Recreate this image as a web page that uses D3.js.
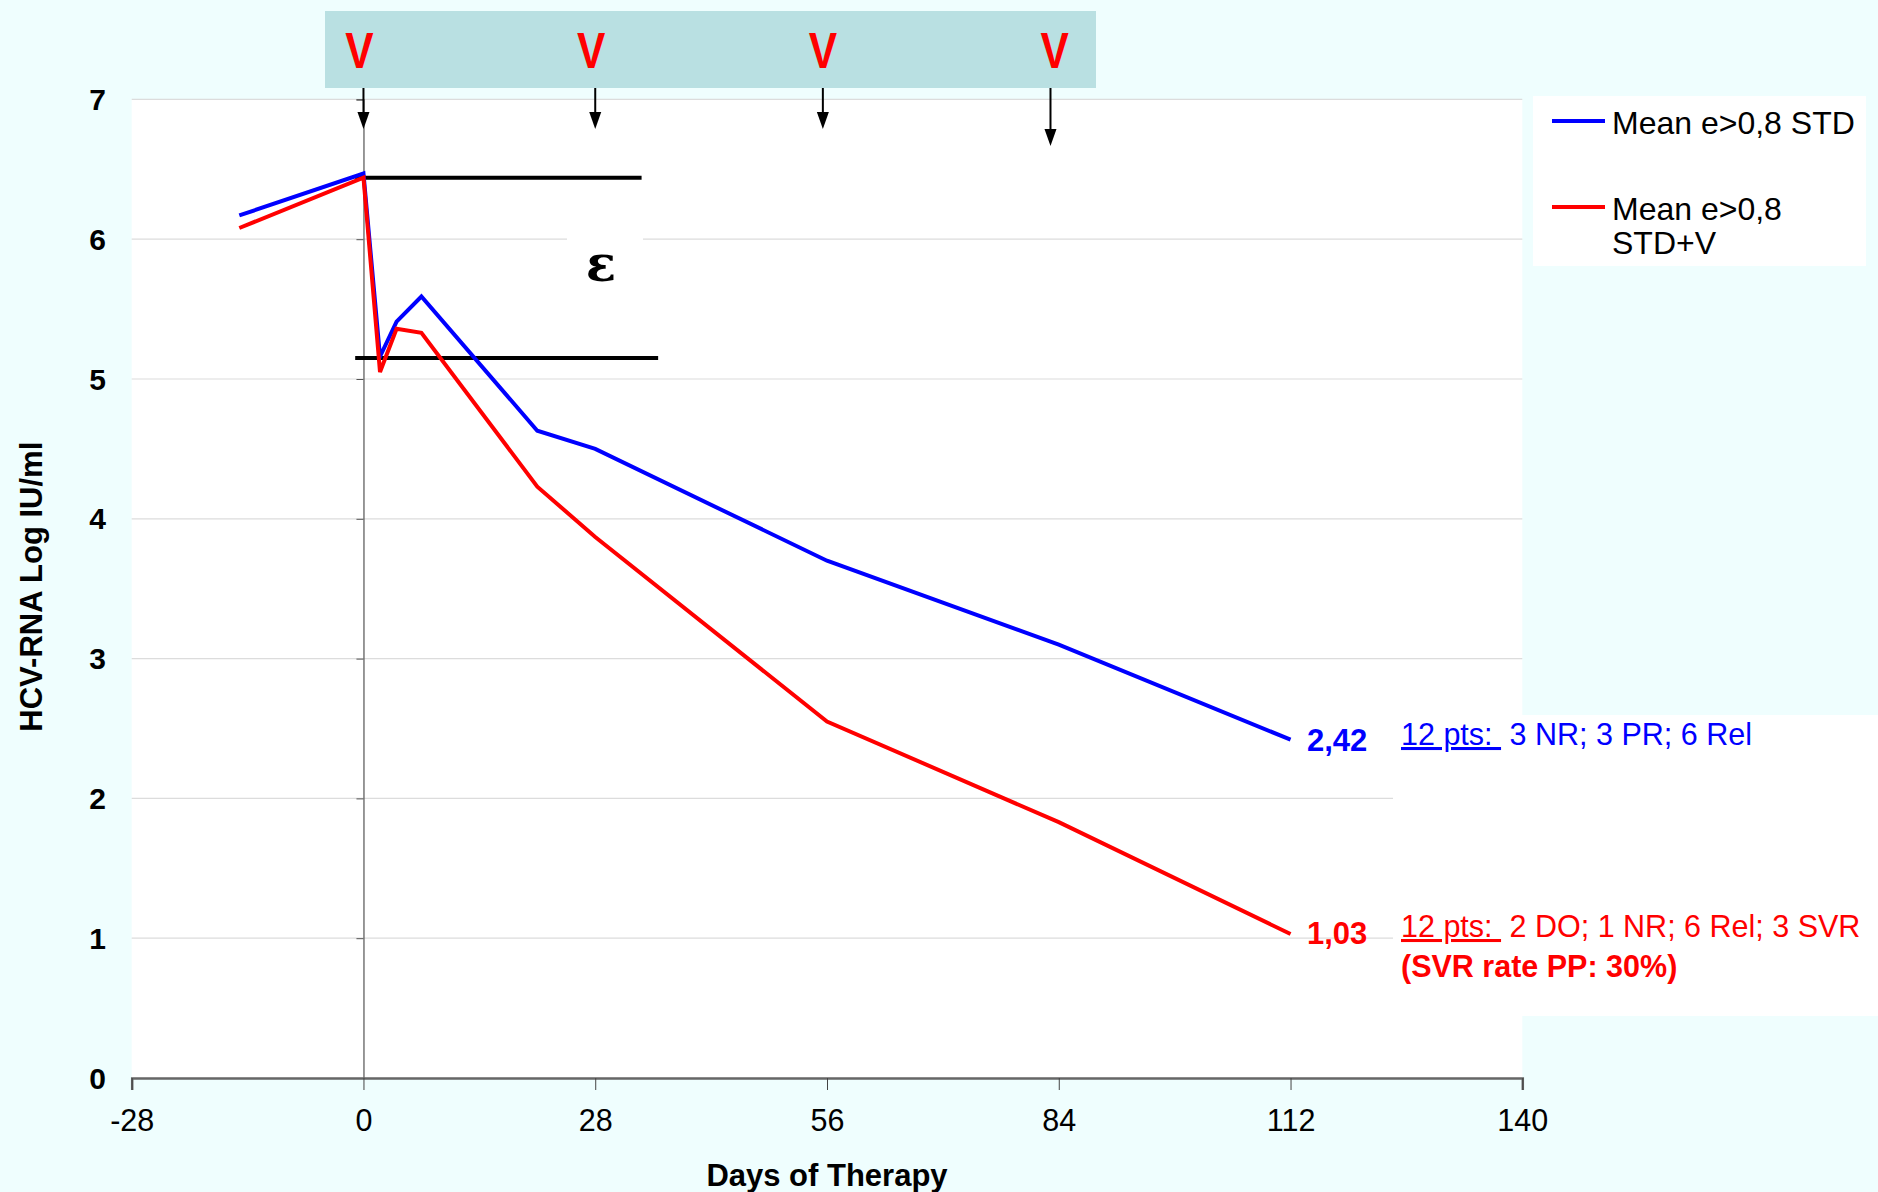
<!DOCTYPE html>
<html>
<head>
<meta charset="utf-8">
<script src="https://cdn.jsdelivr.net/npm/d3@7"></script>
<style>
  html, body { margin: 0; padding: 0; background: #effefe; }
  svg { display: block; font-family: Arial, "Liberation Sans", sans-serif; }
</style>
</head>
<body>
<svg id="chart" width="1878" height="1192"></svg>
<script>
// Days of therapy at which HCV-RNA was measured
const daysStd  = [-15, 0, 2, 4, 7, 21, 28, 56, 84, 112];
const daysStdV = [-15, 0, 2, 4, 7, 21, 28, 56, 84, 112];
// Mean log HCV-RNA, patients with efficacy e>0.8
const meanStd  = [6.17, 6.47, 5.16, 5.41, 5.59, 4.63, 4.50, 3.70, 3.10, 2.42];
const meanStdV = [6.08, 6.44, 5.05, 5.36, 5.33, 4.23, 3.87, 2.55, 1.83, 1.03];
const seriesNames = ["Mean e>0,8 STD", "Mean e>0,8", "STD+V"];
const seriesColors = ["#0000ff", "#ff0000"];
// Axis ticks
const xTicks = [-28, 0, 28, 56, 84, 112, 140];
const yTicks = [0, 1, 2, 3, 4, 5, 6, 7];
// Dosing days marked with "V"
const doseDays = [0, 28, 56, 84];
const arrowDays = [0, 28, 55.5, 83];
// Epsilon bracket levels (log IU/ml)
const epsTop = 6.44, epsBottom = 5.15;
const epsTopSpan = [-1, 33.6], epsBottomSpan = [-1, 35.6];
// End-of-treatment notes
const endLabels = ["2,42", "1,03"];
const noteStd  = ["12 pts: ", " 3 NR; 3 PR; 6 Rel"];
const noteStdV = ["12 pts: ", " 2 DO; 1 NR; 6 Rel; 3 SVR"];
const noteSvr = "(SVR rate PP: 30%)";

const svg = d3.select("#chart");
const x = d3.scaleLinear().domain([-28, 140]).range([131.7, 1522.3]);
const y = d3.scaleLinear().domain([0, 7]).range([1078, 99.4]);

// plot area
svg.append("rect").attr("x", x(-28)).attr("y", y(7))
  .attr("width", x(140) - x(-28)).attr("height", y(0) - y(7)).attr("fill", "#ffffff");

// gridlines
svg.append("g").selectAll("line").data(yTicks.filter(t => t > 0)).join("line")
  .attr("x1", x(-28)).attr("x2", x(140))
  .attr("y1", d => y(d)).attr("y2", d => y(d))
  .attr("stroke", "#dcdcdc").attr("stroke-width", 1.2);

// note box (white) hides the lower gridlines on the right
svg.append("rect").attr("x", 1393).attr("y", 715).attr("width", 485).attr("height", 301).attr("fill", "#ffffff");

// y axis through day 0, ticks only
const yAxis = svg.append("g").attr("transform", `translate(${x(0)},0)`)
  .call(d3.axisLeft(y).tickValues(yTicks).tickSize(7).tickFormat(""));
yAxis.select(".domain").attr("stroke", "#555").attr("stroke-width", 1.2);
yAxis.selectAll(".tick line").attr("stroke", "#555");

// y tick labels at the left edge
svg.append("g").selectAll("text").data(yTicks).join("text")
  .attr("x", 106).attr("y", d => y(d)).attr("dy", "0.35em")
  .attr("text-anchor", "end").attr("font-size", 30).attr("font-weight", "bold")
  .text(d => d);

// x axis
const xAxis = svg.append("g").attr("transform", `translate(0,${y(0)})`)
  .call(d3.axisBottom(x).tickValues(xTicks).tickSize(12).tickPadding(19).tickFormat(d => String(d)));
xAxis.select(".domain").attr("stroke", "#666").attr("stroke-width", 2.5);
xAxis.selectAll(".tick line").attr("stroke", "#444");
xAxis.selectAll(".tick text").attr("font-size", 30.5).attr("fill", "#000")
  .attr("font-family", "Arial, 'Liberation Sans', sans-serif");

// axis titles
svg.append("text").attr("x", x(56)).attr("y", 1186).attr("text-anchor", "middle")
  .attr("font-size", 31).attr("font-weight", "bold").text("Days of Therapy");
svg.append("text").attr("transform", `translate(42,${y(3.5) - 2}) rotate(-90)`)
  .attr("text-anchor", "middle").attr("font-size", 31).attr("font-weight", "bold")
  .text("HCV-RNA Log IU/ml");

// dosing banner
svg.append("rect").attr("x", 325).attr("y", 11).attr("width", 771).attr("height", 77).attr("fill", "#b9e0e2");
svg.append("g").selectAll("text").data(doseDays).join("text")
  .attr("x", d => x(d) - 4).attr("y", 68).attr("text-anchor", "middle")
  .attr("font-size", 50).attr("font-weight", "bold").attr("fill", "#ff0000")
  .attr("transform", d => `translate(${x(d) - 4},0) scale(0.85,1) translate(${-(x(d) - 4)},0)`)
  .text("V");

// arrows from banner
const arrowTips = [129, 129, 129, 146];
const arrows = svg.append("g");
arrowDays.forEach((d, i) => {
  const ax = x(d), tip = arrowTips[i];
  arrows.append("line").attr("x1", ax).attr("x2", ax).attr("y1", 88).attr("y2", tip - 14)
    .attr("stroke", "#000").attr("stroke-width", 2);
  arrows.append("path").attr("d", `M${ax - 6},${tip - 17} L${ax + 6},${tip - 17} L${ax},${tip} Z`).attr("fill", "#000");
});

// epsilon bracket
svg.append("rect").attr("x", 567).attr("y", 200).attr("width", 76).attr("height", 130).attr("fill", "#ffffff");
svg.append("line").attr("x1", x(epsTopSpan[0])).attr("x2", x(epsTopSpan[1]))
  .attr("y1", y(epsTop)).attr("y2", y(epsTop)).attr("stroke", "#000").attr("stroke-width", 4);
svg.append("line").attr("x1", x(epsBottomSpan[0])).attr("x2", x(epsBottomSpan[1]))
  .attr("y1", y(epsBottom)).attr("y2", y(epsBottom)).attr("stroke", "#000").attr("stroke-width", 4);
svg.append("text").attr("x", 601).attr("y", 281).attr("text-anchor", "middle")
  .attr("font-size", 50).attr("font-weight", "bold").attr("font-family", "'DejaVu Serif', serif")
  .text("ε");

// series lines
const line = d3.line().x(d => x(d[0])).y(d => y(d[1]));
const series = [d3.zip(daysStd, meanStd), d3.zip(daysStdV, meanStdV)];
svg.append("g").selectAll("path").data(series).join("path")
  .attr("d", line).attr("fill", "none")
  .attr("stroke", (d, i) => seriesColors[i]).attr("stroke-width", 4).attr("stroke-linejoin", "miter");

// legend
svg.append("rect").attr("x", 1533).attr("y", 96).attr("width", 333).attr("height", 170).attr("fill", "#ffffff");
svg.append("line").attr("x1", 1552).attr("x2", 1605).attr("y1", 121).attr("y2", 121)
  .attr("stroke", seriesColors[0]).attr("stroke-width", 4);
svg.append("line").attr("x1", 1552).attr("x2", 1605).attr("y1", 207).attr("y2", 207)
  .attr("stroke", seriesColors[1]).attr("stroke-width", 4);
svg.append("text").attr("x", 1612).attr("y", 134).attr("font-size", 32).text(seriesNames[0]);
svg.append("text").attr("x", 1612).attr("y", 220).attr("font-size", 32).text(seriesNames[1]);
svg.append("text").attr("x", 1612).attr("y", 254).attr("font-size", 32).text(seriesNames[2]);

// end values
const lastStd = meanStd[meanStd.length - 1], lastStdV = meanStdV[meanStdV.length - 1];
svg.append("text").attr("x", 1307).attr("y", y(lastStd) + 11).attr("font-size", 31)
  .attr("font-weight", "bold").attr("fill", seriesColors[0]).text(endLabels[0]);
svg.append("text").attr("x", 1307).attr("y", y(lastStdV) + 10).attr("font-size", 31)
  .attr("font-weight", "bold").attr("fill", seriesColors[1]).text(endLabels[1]);

// notes: underlined lead-in followed by the outcome breakdown
function note(parts, ty, color) {
  const t = svg.append("text").attr("x", 1401).attr("y", ty).attr("font-size", 30.5)
    .attr("fill", color).attr("xml:space", "preserve");
  t.append("tspan").attr("text-decoration", "underline").text(parts[0].replace(/ $/, "\u00a0"));
  t.append("tspan").text(parts[1]);
}
note(noteStd, 745, seriesColors[0]);
note(noteStdV, 937, seriesColors[1]);
svg.append("text").attr("x", 1401).attr("y", 977).attr("font-size", 30.5)
  .attr("font-weight", "bold").attr("fill", seriesColors[1]).text(noteSvr);
</script>
</body>
</html>
